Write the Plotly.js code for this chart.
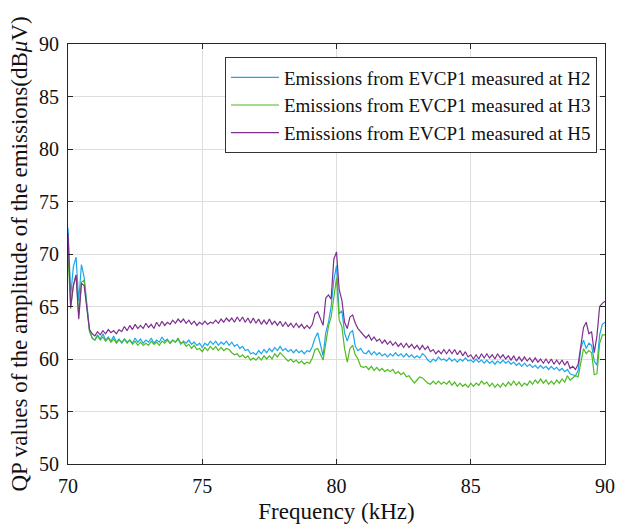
<!DOCTYPE html>
<html>
<head>
<meta charset="utf-8">
<script src="https://cdn.plot.ly/plotly-3.0.1.min.js"></script>
<style>html,body{margin:0;padding:0;background:#fff;}#chart{width:617px;height:529px;}</style>
</head>
<body>
<div id="chart"></div>
<script>
// Frequency grid (kHz), 70.0 to 90.0 in 0.1 kHz steps
const freqStart = 70.0;
const freqStep = 0.1;

const seriesNames = [
  "Emissions from EVCP1 measured at H2",
  "Emissions from EVCP1 measured at H3",
  "Emissions from EVCP1 measured at H5"
];

const xTicks = [70, 75, 80, 85, 90];
const yTicks = [50, 55, 60, 65, 70, 75, 80, 85, 90];

// H2 (blue)
const h2 = [
72.5,66.0,68.8,69.7,65.5,69.0,67.8,65.0,62.8,62.0,
61.8,62.3,61.9,62.4,61.8,62.1,61.7,62.2,61.6,61.9,
61.5,61.9,61.6,61.8,61.5,62.0,61.6,61.9,61.5,61.8,
61.6,62.0,61.5,61.8,61.6,62.1,61.7,61.9,61.5,61.8,
61.6,61.9,61.4,61.7,61.5,61.8,61.4,61.6,61.3,61.5,
61.1,61.5,61.3,61.7,61.4,61.7,61.3,61.6,61.4,61.7,
61.3,61.6,61.2,61.4,61.0,61.2,60.8,60.9,60.5,60.6,
60.4,60.8,60.5,60.9,60.6,61.0,60.7,61.1,60.8,61.2,
60.8,61.0,60.7,60.9,60.6,60.9,60.6,60.8,60.5,60.8,
60.7,61.2,62.0,62.5,61.5,60.3,62.5,63.5,65.0,67.5,
68.9,64.3,64.6,62.5,61.7,62.5,62.7,61.2,60.8,61.0,
60.6,60.5,60.8,60.4,60.7,60.4,60.6,60.3,60.5,60.2,
60.5,60.3,60.6,60.3,60.5,60.2,60.5,60.2,60.4,60.1,
60.3,60.1,60.5,60.3,59.9,59.7,60.0,59.8,60.2,59.9,
60.0,59.8,60.1,59.8,60.0,59.7,60.0,59.8,60.1,59.8,
59.9,59.7,60.0,59.7,59.9,59.6,59.9,59.6,59.8,59.5,
59.8,59.6,59.9,59.6,59.8,59.5,59.7,59.4,59.6,59.3,
59.6,59.3,59.5,59.2,59.4,59.1,59.4,59.1,59.3,59.0,
59.3,59.0,59.2,58.9,59.1,58.8,59.0,58.6,58.5,58.4,
58.9,61.0,61.8,61.0,61.5,61.3,59.8,59.4,62.3,63.3,
63.5
];

// H3 (green)
const h3 = [
70.0,64.8,67.0,68.0,64.2,67.3,67.5,64.8,62.6,62.0,
61.8,62.2,61.8,62.1,61.7,62.0,61.6,61.9,61.5,61.8,
61.6,61.9,61.5,61.8,61.4,61.7,61.3,61.6,61.3,61.5,
61.3,61.7,61.4,61.6,61.3,61.7,61.5,61.8,61.5,61.8,
61.6,62.0,61.5,61.6,61.2,61.4,61.0,61.3,60.9,61.0,
60.7,61.1,60.8,61.2,60.9,61.2,60.8,61.1,60.8,61.0,
60.9,60.6,60.4,60.5,60.2,60.4,60.1,60.3,59.9,60.1,
59.9,60.2,59.9,60.3,60.0,60.3,60.0,60.5,60.2,60.6,
60.3,60.0,59.8,60.0,59.7,59.9,59.6,59.8,59.5,59.7,
59.6,60.1,60.9,61.0,60.5,59.9,61.5,63.1,64.0,66.0,
67.7,63.7,63.1,61.0,59.7,61.0,61.3,60.4,60.0,59.3,
59.2,59.3,59.0,59.3,58.9,59.2,58.9,59.1,58.8,59.0,
58.8,59.0,58.6,58.8,58.5,58.7,58.3,58.4,58.0,57.7,
58.0,58.3,58.2,57.9,57.7,57.6,57.9,57.6,57.9,57.6,
57.8,57.6,57.9,57.5,57.8,57.4,57.7,57.4,57.6,57.3,
57.7,57.4,57.7,57.5,57.9,57.6,57.8,57.4,57.7,57.3,
57.6,57.3,57.7,57.4,57.8,57.5,57.9,57.5,57.8,57.4,
57.7,57.5,57.9,57.6,58.0,57.7,58.1,57.7,58.0,57.6,
57.9,57.6,58.0,57.7,58.1,57.8,58.4,58.0,58.2,58.4,
58.3,59.5,61.0,60.5,60.8,60.6,58.5,58.6,61.5,62.3,
62.3
];

// H5 (purple)
const h5 = [
72.0,65.0,67.0,68.0,63.8,67.2,67.0,64.8,62.8,62.4,
62.2,62.6,62.3,62.7,62.4,62.8,62.5,62.7,62.4,62.8,
62.6,63.1,62.7,63.2,62.8,63.3,62.9,63.2,62.9,63.4,
63.0,63.3,62.9,63.5,63.1,63.6,63.2,63.5,63.3,63.7,
63.4,63.8,63.5,63.8,63.4,63.7,63.3,63.6,63.2,63.5,
63.3,63.6,63.3,63.5,63.4,63.7,63.4,63.8,63.5,63.9,
63.6,63.9,63.5,64.0,63.6,64.0,63.5,63.9,63.4,63.9,
63.4,63.8,63.3,63.7,63.3,63.8,63.3,63.6,63.2,63.6,
63.1,63.5,63.1,63.4,63.0,63.4,63.0,63.3,62.9,63.2,
62.9,63.3,64.3,64.5,63.8,63.2,65.8,66.1,65.7,69.5,
70.2,66.6,65.6,63.5,62.9,64.0,64.2,63.4,62.9,62.6,
62.3,62.0,62.3,61.8,62.1,61.7,61.9,61.5,61.8,61.4,
61.7,61.3,61.6,61.2,61.5,61.1,61.5,61.1,61.4,61.0,
61.3,60.9,61.3,60.9,61.2,60.7,60.9,60.5,60.8,60.5,
60.9,60.5,60.9,60.5,60.9,60.4,60.8,60.3,60.7,60.2,
60.4,60.0,60.4,60.0,60.5,60.1,60.5,60.1,60.4,60.0,
60.5,60.1,60.4,60.0,60.3,59.9,60.3,59.8,60.2,59.8,
60.2,59.8,60.1,59.7,60.1,59.7,60.0,59.6,60.0,59.6,
60.0,59.5,59.9,59.5,59.9,59.4,59.8,59.1,59.3,59.0,
59.5,61.5,63.0,63.5,62.4,62.6,60.6,62.2,65.0,65.3,
65.5
];

const freq = h2.map((_, i) => +(freqStart + i * freqStep).toFixed(1));

const colors = ["#1aa7ec", "#4dbb1e", "#7e2f8e"];
const values = [h2, h3, h5];

const traces = values.map((v, k) => ({
  x: freq,
  y: v,
  type: "scatter",
  mode: "lines",
  name: seriesNames[k],
  line: { color: colors[k], width: 1.2 }
}));

const font = "Liberation Serif";

const layout = {
  width: 617,
  height: 529,
  margin: { l: 68, r: 12, t: 44, b: 65 },
  paper_bgcolor: "#ffffff",
  plot_bgcolor: "#ffffff",
  font: { family: font, size: 20, color: "#111111" },
  showlegend: true,
  legend: {
    x: 0.985, y: 0.968, xanchor: "right", yanchor: "top",
    bgcolor: "#ffffff",
    bordercolor: "#333333",
    borderwidth: 1,
    font: { family: font, size: 19, color: "#111111" },
    tracegroupgap: 0,
    itemwidth: 48
  },
  xaxis: {
    range: [70, 90],
    tickvals: xTicks,
    ticktext: xTicks.map(String),
    ticks: "inside",
    ticklen: 5,
    tickcolor: "#262626",
    showline: true,
    linecolor: "#262626",
    linewidth: 1,
    mirror: "allticks",
    showgrid: true,
    gridcolor: "#dedede",
    gridwidth: 1,
    zeroline: false,
    tickfont: { family: font, size: 20, color: "#111111" },
    ticklabelstandoff: 4,
    title: { text: "Frequency (kHz)", font: { family: font, size: 23, color: "#111111" }, standoff: 6 }
  },
  yaxis: {
    range: [50, 90],
    tickvals: yTicks,
    ticktext: yTicks.map(String),
    ticks: "inside",
    ticklen: 5,
    tickcolor: "#262626",
    showline: true,
    linecolor: "#262626",
    linewidth: 1,
    mirror: "allticks",
    showgrid: true,
    gridcolor: "#dedede",
    gridwidth: 1,
    zeroline: false,
    tickfont: { family: font, size: 20, color: "#111111" },
    ticklabelstandoff: 4,
    title: { text: "QP values of the amplitude of the emissions(dB<i>μ</i>V)", font: { family: font, size: 23, color: "#111111" }, standoff: 4 }
  }
};

Plotly.newPlot("chart", traces, layout, { displayModeBar: false, staticPlot: true });
</script>
</body>
</html>
